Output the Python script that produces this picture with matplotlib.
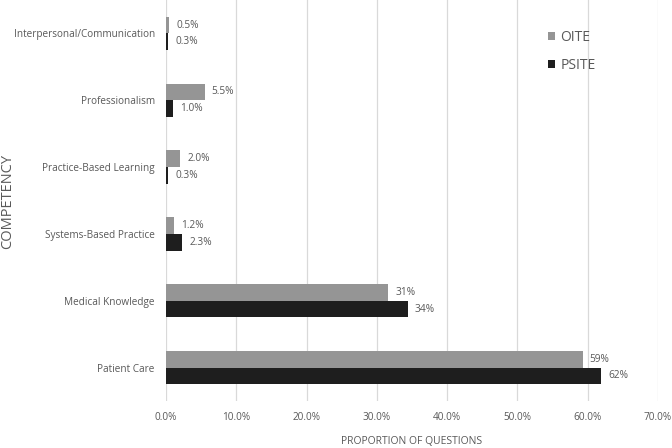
import matplotlib.pyplot as plt
import numpy as np

plt.rcParams["font.family"] = ["Open Sans", "DejaVu Sans"]

CATEGORIES = [
    "Patient Care",
    "Medical Knowledge",
    "Systems-Based Practice",
    "Practice-Based Learning",
    "Professionalism",
    "Interpersonal/Communication",
]
OITE = [59.3, 31.6, 1.2, 2.0, 5.5, 0.5]
PSITE = [61.9, 34.4, 2.3, 0.3, 1.0, 0.3]
OITE_LABELS = ["59%", "31%", "1.2%", "2.0%", "5.5%", "0.5%"]
PSITE_LABELS = ["62%", "34%", "2.3%", "0.3%", "1.0%", "0.3%"]
XTICKS = [0, 10, 20, 30, 40, 50, 60, 70]

GREY = "#959595"
BLACK = "#1e1e1e"
TEXT = "#595959"
GRID = "#d9d9d9"

fig = plt.figure(figsize=(6.72, 4.48), dpi=100)
ax = fig.add_axes([0.247, 0.105, 0.732, 0.895])

y = np.arange(len(CATEGORIES))
h = 0.25
ax.barh(y + h / 2, OITE, height=h, color=GREY, label="OITE", zorder=3)
ax.barh(y - h / 2, PSITE, height=h, color=BLACK, label="PSITE", zorder=3)

for yi, v, s in zip(y, OITE, OITE_LABELS):
    ax.text(v + 1.0, yi + h / 2, s, va="center", ha="left", fontsize=7.3, color=TEXT)
for yi, v, s in zip(y, PSITE, PSITE_LABELS):
    ax.text(v + 1.0, yi - h / 2, s, va="center", ha="left", fontsize=7.3, color=TEXT)

ax.set_xlim(0, 70)
ax.set_ylim(-0.5, len(CATEGORIES) - 0.5)
ax.set_xticks(XTICKS)
ax.set_xticklabels([f"{t:.1f}%" for t in XTICKS])
ax.set_yticks(y)
ax.set_yticklabels(CATEGORIES)
ax.tick_params(axis="both", length=0, labelsize=7.2, colors=TEXT)
ax.tick_params(axis="x", pad=8)
ax.tick_params(axis="y", pad=8)
ax.grid(axis="x", color=GRID, linewidth=0.9, zorder=0)
for sp in ax.spines.values():
    sp.set_visible(False)

ax.set_xlabel("PROPORTION OF QUESTIONS", fontsize=7.5, color=TEXT, labelpad=9)
fig.text(0.0, 0.55, "COMPETENCY", rotation=90, va="center", ha="left",
         fontsize=10.5, color=TEXT)

leg = ax.legend(loc="upper left", bbox_to_anchor=(0.765, 0.94), frameon=False,
                fontsize=10, handlelength=0.55, handleheight=0.55,
                labelspacing=0.95, handletextpad=0.35, borderaxespad=0)
for t in leg.get_texts():
    t.set_color(TEXT)

fig.savefig("out.png", dpi=100)
